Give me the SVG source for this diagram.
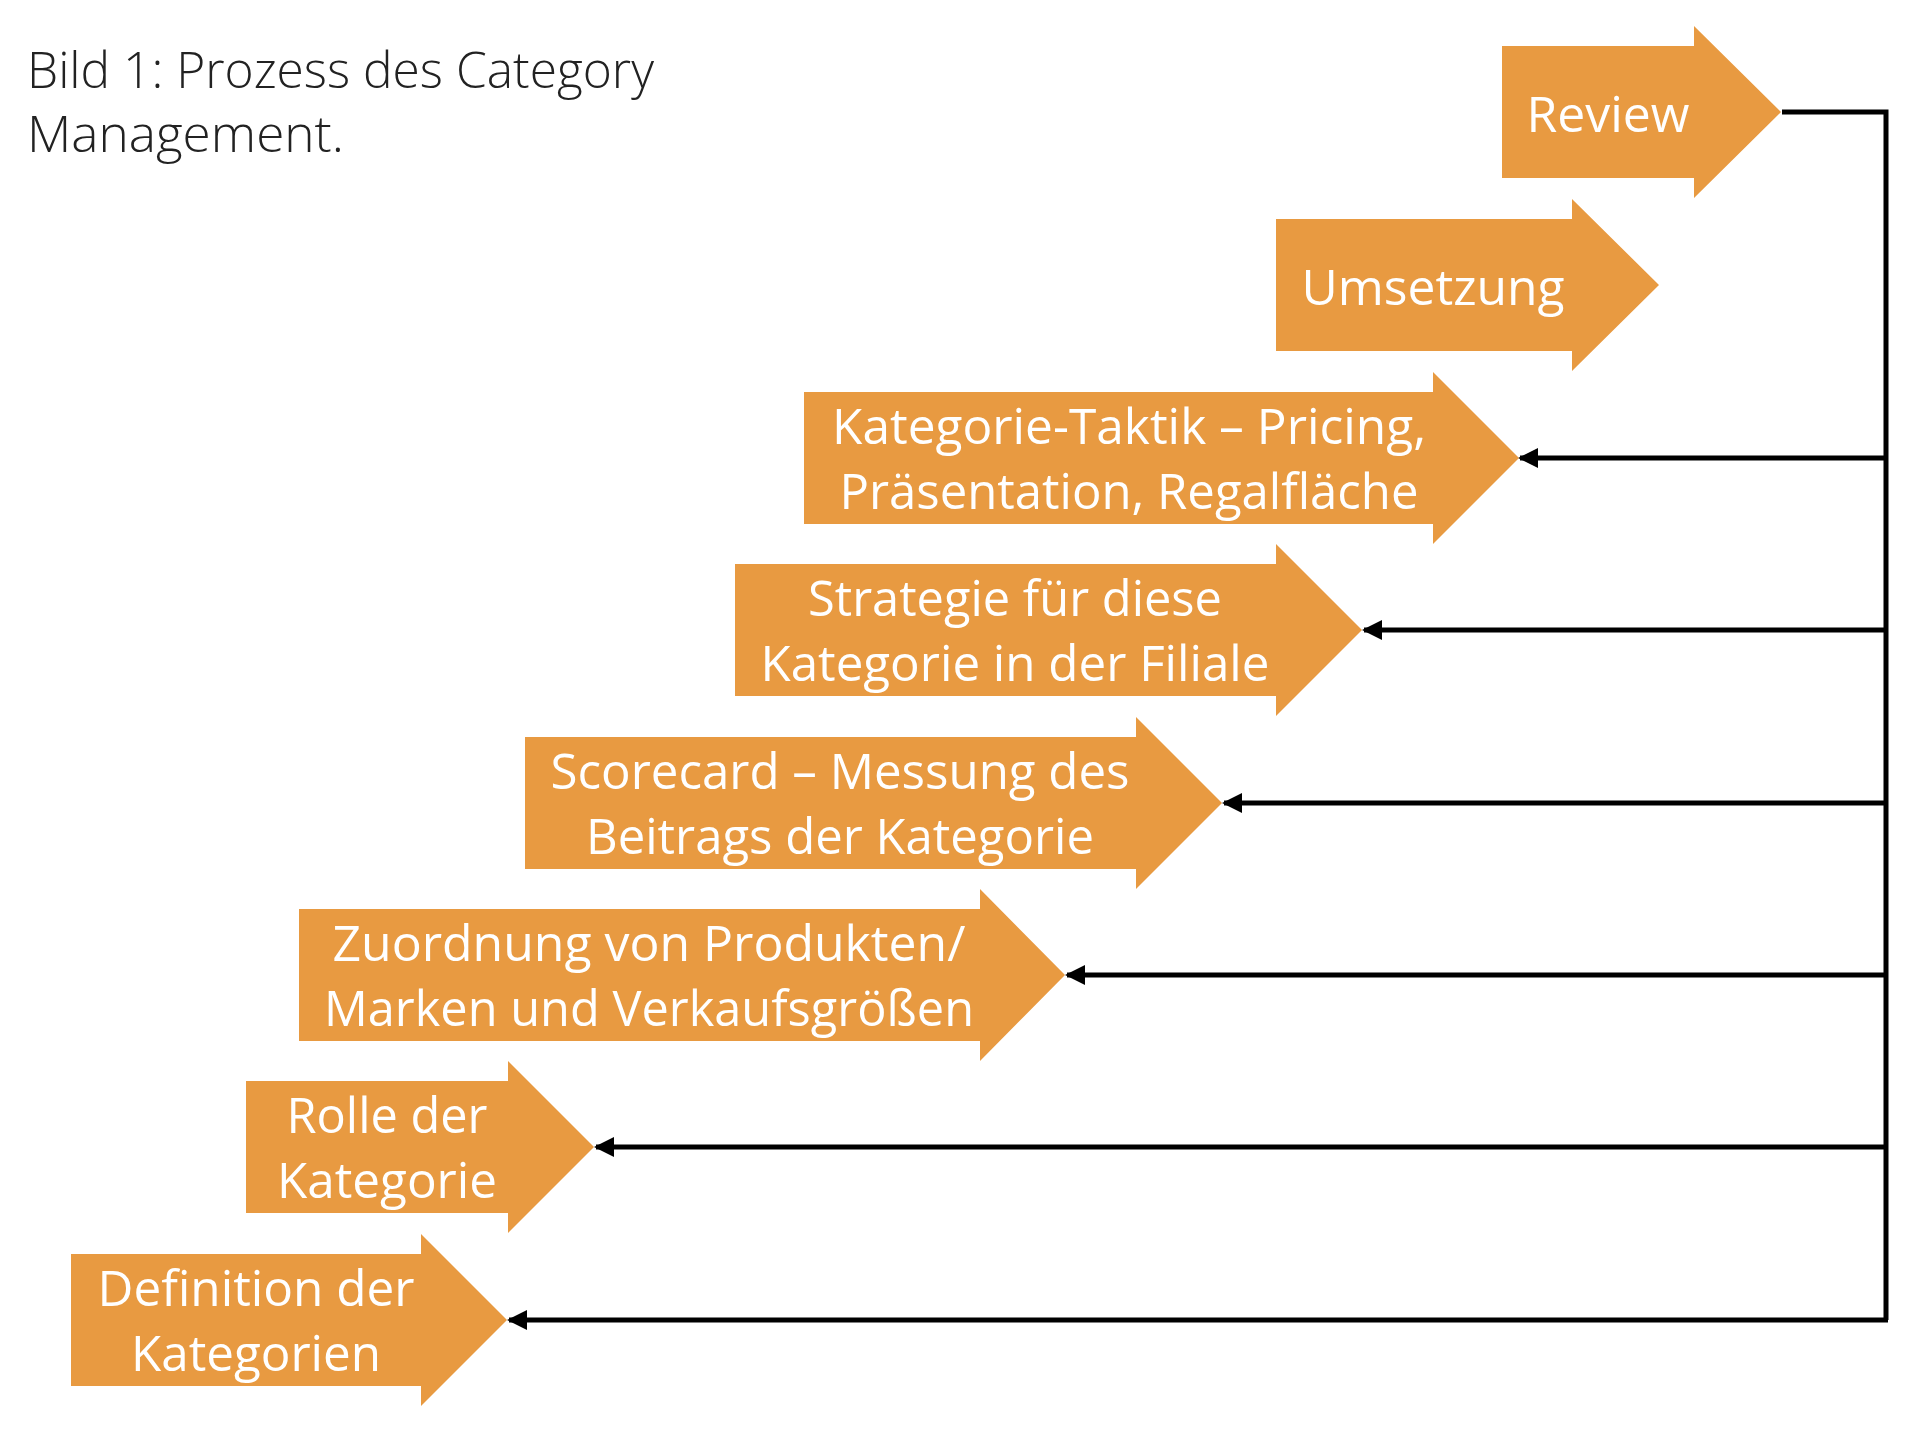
<svg xmlns="http://www.w3.org/2000/svg" width="1920" height="1431" viewBox="0 0 1920 1431">
<style>
.a{fill:#e89a41}
.t{fill:#fff;font-family:"Open Sans","Noto Sans",sans-serif;font-size:50px;text-anchor:middle}
.h{fill:#222;font-family:"Open Sans","Noto Sans",sans-serif;font-size:50px;font-weight:300}
.c{fill:none;stroke:#000;stroke-width:5}
</style>
<defs>
<marker id="m" viewBox="0 0 10 10" refX="9" refY="5" markerWidth="4" markerHeight="4" orient="auto" markerUnits="strokeWidth"><path d="M0,0L10,5L0,10z" fill="#000"/></marker>
</defs>
<rect width="1920" height="1431" fill="#fff"/>
<g id="title">
<text class="h" x="27" y="88" textLength="627" lengthAdjust="spacingAndGlyphs">Bild 1: Prozess des Category</text>
<text class="h" x="27" y="152" textLength="317" lengthAdjust="spacingAndGlyphs">Management.</text>
</g>
<g id="connectors">
<path class="c" d="M1782,112H1886V1320"/>
<path class="c" marker-end="url(#m)" d="M1886,458H1520"/>
<path class="c" marker-end="url(#m)" d="M1886,630H1364"/>
<path class="c" marker-end="url(#m)" d="M1886,803H1224"/>
<path class="c" marker-end="url(#m)" d="M1886,975H1067"/>
<path class="c" marker-end="url(#m)" d="M1886,1147H596"/>
<path class="c" marker-end="url(#m)" d="M1888,1320H509"/>
</g>
<g id="review"><path class="a" d="M1502,46H1694V26L1781,112L1694,198V178H1502z"/>
<text class="t" x="1608" y="132" textLength="163" lengthAdjust="spacingAndGlyphs">Review</text></g>
<g id="umsetzung"><path class="a" d="M1276,219H1572V199L1659,285L1572,371V351H1276z"/>
<text class="t" x="1433" y="305" textLength="263" lengthAdjust="spacingAndGlyphs">Umsetzung</text></g>
<g id="taktik"><path class="a" d="M804,392H1433V372L1519,458L1433,544V524H804z"/>
<text class="t" x="1129" y="444" textLength="594" lengthAdjust="spacingAndGlyphs">Kategorie-Taktik – Pricing,</text>
<text class="t" x="1129" y="509" textLength="579" lengthAdjust="spacingAndGlyphs">Präsentation, Regalfläche</text></g>
<g id="strategie"><path class="a" d="M735,564H1276V544L1362,630L1276,716V696H735z"/>
<text class="t" x="1015" y="616" textLength="414" lengthAdjust="spacingAndGlyphs">Strategie für diese</text>
<text class="t" x="1015" y="681" textLength="509" lengthAdjust="spacingAndGlyphs">Kategorie in der Filiale</text></g>
<g id="scorecard"><path class="a" d="M525,737H1136V717L1222,803L1136,889V869H525z"/>
<text class="t" x="840" y="789" textLength="579" lengthAdjust="spacingAndGlyphs">Scorecard – Messung des</text>
<text class="t" x="840" y="854" textLength="508" lengthAdjust="spacingAndGlyphs">Beitrags der Kategorie</text></g>
<g id="zuordnung"><path class="a" d="M299,909H980V889L1065,975L980,1061V1041H299z"/>
<text class="t" x="649" y="961" textLength="633" lengthAdjust="spacingAndGlyphs">Zuordnung von Produkten/</text>
<text class="t" x="649" y="1026" textLength="650" lengthAdjust="spacingAndGlyphs">Marken und Verkaufsgrößen</text></g>
<g id="rolle"><path class="a" d="M246,1081H508V1061L594,1147L508,1233V1213H246z"/>
<text class="t" x="387" y="1133" textLength="201" lengthAdjust="spacingAndGlyphs">Rolle der</text>
<text class="t" x="387" y="1198" textLength="220" lengthAdjust="spacingAndGlyphs">Kategorie</text></g>
<g id="definition"><path class="a" d="M71,1254H421V1234L507,1320L421,1406V1386H71z"/>
<text class="t" x="256" y="1306" textLength="317" lengthAdjust="spacingAndGlyphs">Definition der</text>
<text class="t" x="256" y="1371" textLength="250" lengthAdjust="spacingAndGlyphs">Kategorien</text></g>
</svg>
